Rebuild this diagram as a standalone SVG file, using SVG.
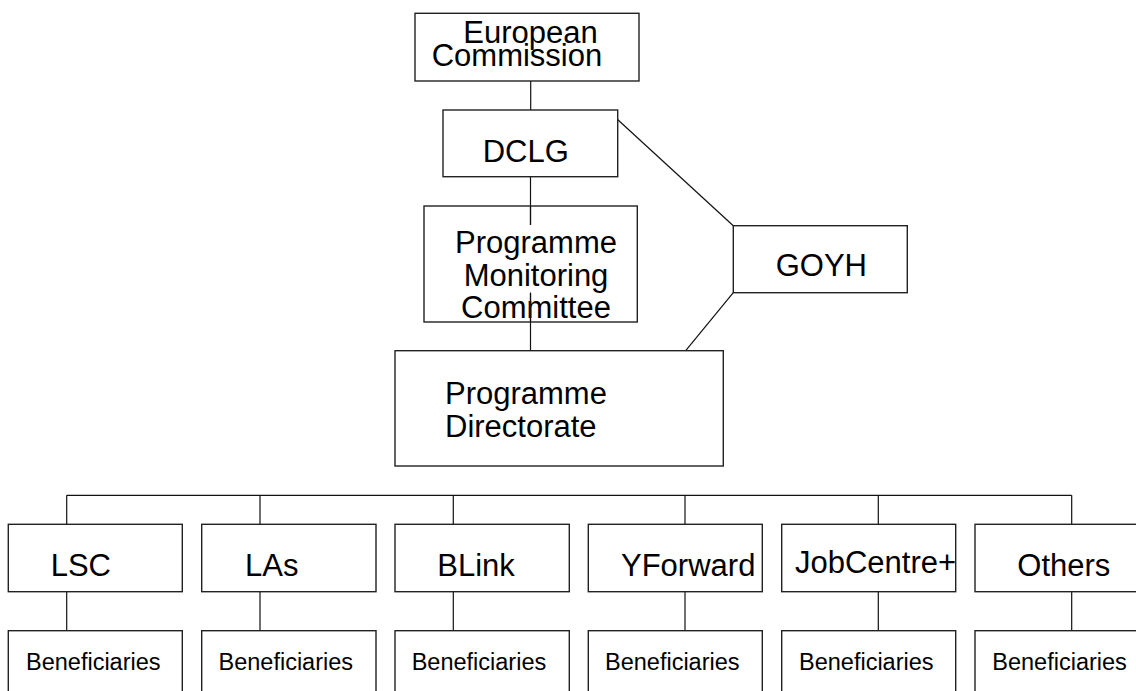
<svg xmlns="http://www.w3.org/2000/svg" width="1136" height="691" viewBox="0 0 1136 691">
<style>
.box{fill:#fff;stroke:#222;stroke-width:1.4}
.ln{stroke:#111;stroke-width:1.2;fill:none}
.t{font-family:"Liberation Sans",Arial,sans-serif;font-size:31px;fill:#000}
.s{font-family:"Liberation Sans",Arial,sans-serif;font-size:23.5px;fill:#000}
</style>
<rect width="1136" height="691" fill="#fff"/>
<g id="connectors">
<line class="ln" x1="530.7" y1="81" x2="530.7" y2="110"/>
<line class="ln" x1="530.5" y1="176.7" x2="530.5" y2="225"/>
<line class="ln" x1="530.5" y1="292.7" x2="530.5" y2="350.7"/>
<line class="ln" x1="617.3" y1="119.3" x2="733.3" y2="225.7"/>
<line class="ln" x1="733.3" y1="292.7" x2="685.7" y2="350.7"/>
<line class="ln" x1="66.7" y1="495.3" x2="1071.7" y2="495.3"/>
<path class="ln" d="M66.7 495.3V524.3M260 495.3V524.3M453.3 495.3V524.3M685 495.3V524.3M878.3 495.3V524.3M1071.7 495.3V524.3"/>
<path class="ln" d="M66.7 591.7V630.7M260 591.7V630.7M453.3 591.7V630.7M685 591.7V630.7M878.3 591.7V630.7M1071.7 591.7V630.7"/>
</g>
<g id="ec"><rect class="box" x="415" y="13.3" width="224" height="67.7"/>
<text class="t" x="463.3" y="43.3">European</text><text class="t" x="431.7" y="66">Commission</text></g>
<g id="dclg"><rect class="box" x="443" y="110" width="174.7" height="66.7"/>
<text class="t" x="482.7" y="162">DCLG</text></g>
<g id="pmc"><rect class="box" x="424" y="206" width="213.3" height="116" fill-opacity="0"/>
<text class="t" text-anchor="middle" x="536" y="253.3">Programme</text>
<text class="t" text-anchor="middle" x="536" y="285.5">Monitoring</text>
<text class="t" text-anchor="middle" x="536" y="318">Committee</text></g>
<line class="ln" x1="530.5" y1="292.7" x2="530.5" y2="322"/>
<line class="ln" x1="530.5" y1="206" x2="530.5" y2="225"/>
<g id="goyh"><rect class="box" x="733.3" y="225.7" width="174" height="67"/>
<text class="t" x="775.7" y="276">GOYH</text></g>
<g id="pd"><rect class="box" x="395" y="350.7" width="328.3" height="115.3"/>
<text class="t" x="445" y="404">Programme</text><text class="t" x="445" y="436.7">Directorate</text></g>
<g id="lsc"><rect class="box" x="8.3" y="524.3" width="174" height="67.4"/><text class="t" x="50.7" y="576">LSC</text></g>
<g id="las"><rect class="box" x="201.7" y="524.3" width="174.3" height="67.4"/><text class="t" x="245" y="576">LAs</text></g>
<g id="blink"><rect class="box" x="395" y="524.3" width="174.3" height="67.4"/><text class="t" x="437.3" y="576">BLink</text></g>
<g id="yforward"><rect class="box" x="588.3" y="524.3" width="174" height="67.4"/><text class="t" x="621" y="576">YForward</text></g>
<g id="jobcentre"><rect class="box" x="781.7" y="524.3" width="174" height="67.4"/><text class="t" x="795" y="573">JobCentre+</text></g>
<g id="others"><rect class="box" x="975" y="524.3" width="174" height="67.4"/><text class="t" x="1017.3" y="576">Others</text></g>
<g id="ben1"><rect class="box" x="8.3" y="630.7" width="174" height="80"/><text class="s" x="26" y="670">Beneficiaries</text></g>
<g id="ben2"><rect class="box" x="201.7" y="630.7" width="174.3" height="80"/><text class="s" x="218.5" y="670">Beneficiaries</text></g>
<g id="ben3"><rect class="box" x="395" y="630.7" width="174.3" height="80"/><text class="s" x="411.7" y="670">Beneficiaries</text></g>
<g id="ben4"><rect class="box" x="588.3" y="630.7" width="174" height="80"/><text class="s" x="605" y="670">Beneficiaries</text></g>
<g id="ben5"><rect class="box" x="781.7" y="630.7" width="174" height="80"/><text class="s" x="799" y="670">Beneficiaries</text></g>
<g id="ben6"><rect class="box" x="975" y="630.7" width="174" height="80"/><text class="s" x="992.3" y="670">Beneficiaries</text></g>
</svg>
